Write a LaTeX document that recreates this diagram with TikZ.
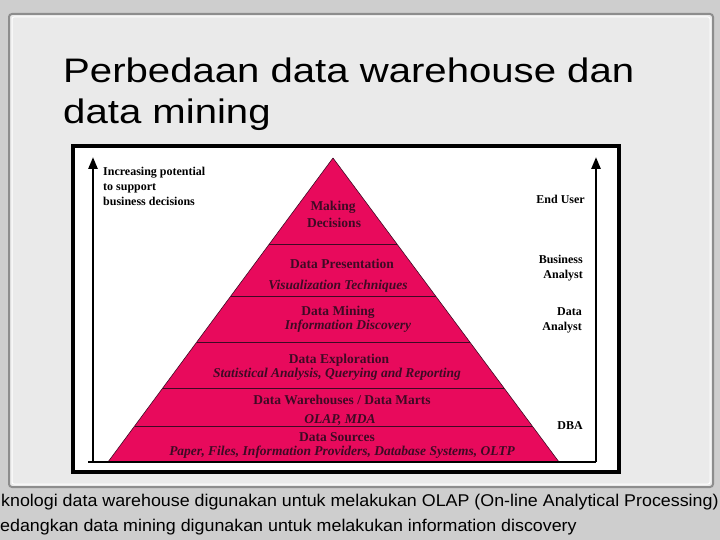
\documentclass[tikz,border=0pt]{standalone}
\usepackage{fontspec}
\setmainfont{Liberation Serif}
\newfontfamily\slidefont{Liberation Sans}
\usetikzlibrary{arrows.meta,calc}
\definecolor{pyrpink}{RGB}{232,10,92}
\definecolor{pyrtext}{RGB}{62,10,36}
\definecolor{panelgray}{RGB}{234,234,234}
\definecolor{outergray}{RGB}{206,206,206}

\begin{document}
\begin{tikzpicture}[
    x=1pt, y=-1pt,
    layer/.style={anchor=base, inner sep=0pt, text=pyrtext, font=\fontsize{13.5}{15}\selectfont\bfseries},
    sublayer/.style={anchor=base, inner sep=0pt, text=pyrtext, font=\fontsize{13.5}{15}\selectfont\bfseries\itshape},
    role/.style={anchor=base east, inner sep=0pt, font=\fontsize{12}{15}\selectfont\bfseries},
    axis/.style={-{Triangle[length=12pt,width=9pt]}, line width=2.6pt},
    divider/.style={draw=pyrtext, line width=0.8pt},
    slidetext/.style={inner sep=0pt, font=\slidefont\fontsize{17}{20}\selectfont, xscale=1.05}
]

% slide background
\fill[outergray] (0,0) rectangle (720,540);
\useasboundingbox (0,0) rectangle (720,540);
\draw[panelgray!60!black, line width=2pt, fill=panelgray, rounded corners=3pt] (9,14) rectangle (713,487);
\draw[white, line width=1pt, rounded corners=2pt] (12,17) rectangle (710,484);

% title
\node[anchor=north west, inner sep=0pt, align=left, xscale=1.18,
      font=\slidefont\fontsize{34}{41}\selectfont] (title) at (63,58)
      {Perbedaan data warehouse dan\\data mining};

% figure frame
\draw[line width=4pt, fill=white] (73,146) rectangle (619,472);

% pyramid
\coordinate (apex) at (333,158);
\coordinate (bl) at (108,462);
\coordinate (br) at (559,462);
\fill[pyrpink] (apex) -- (bl) -- (br) -- cycle;
\foreach \t in {0.283,0.454,0.605,0.757,0.882}
  \draw[divider] ($(apex)!\t!(bl)$) -- ($(apex)!\t!(br)$);
\draw[pyrtext, line width=0.6pt] (apex) -- (bl) (apex) -- (br);

% axes
\coordinate (lbot) at (93,462);
\coordinate (ltop) at (93,157);
\coordinate (rbot) at (596,462);
\coordinate (rtop) at (596,157);
\coordinate (basew) at (88,462);
\draw[line width=1.5pt] (basew) -- (rbot);
\draw[axis] (lbot) -- (ltop);
\draw[axis] (rbot) -- (rtop);

% layer labels
\node[layer] (making) at (333,211) {Making};
\node[layer] (decisions) at (334,228) {Decisions};
\node[layer] (pres) at (342,268) {Data Presentation};
\node[sublayer] (visual) at (338,289) {Visualization Techniques};
\node[layer] (mining) at (338,315) {Data Mining};
\node[sublayer] (discov) at (348,329) {Information Discovery};
\node[layer] (explor) at (339,363) {Data Exploration};
\node[sublayer] (stats) at (337,377) {Statistical Analysis, Querying and Reporting};
\node[layer] (dwh) at (342,404) {Data Warehouses / Data Marts};
\node[sublayer] (olap) at (340,423) {OLAP, MDA};
\node[layer] (sources) at (337,441) {Data Sources};
\node[sublayer] (paper) at (342,455) {Paper, Files, Information Providers, Database Systems, OLTP};

% left label
\node[anchor=north west, inner sep=0pt, align=left, font=\fontsize{12}{15}\selectfont\bfseries] (potential) at (103,167)
  {Increasing potential\\to support\\business decisions};

% user roles
\node[role] (enduser) at (585,204) {End User};
\node[role, anchor=north east, align=right] (busan) at (583,255) {Business\\Analyst};
\node[role, anchor=north east, align=right] (datan) at (582,307) {Data\\Analyst};
\node[role] (dba) at (583,429) {DBA};

% caption below
\node[slidetext, anchor=base west] (line1) at (1,506) {knologi data warehouse digunakan untuk melakukan OLAP (On-line Analytical Processing)};
\node[slidetext, anchor=base west] (line2) at (0,531) {edangkan data mining digunakan untuk melakukan information discovery};

\end{tikzpicture}
\end{document}
